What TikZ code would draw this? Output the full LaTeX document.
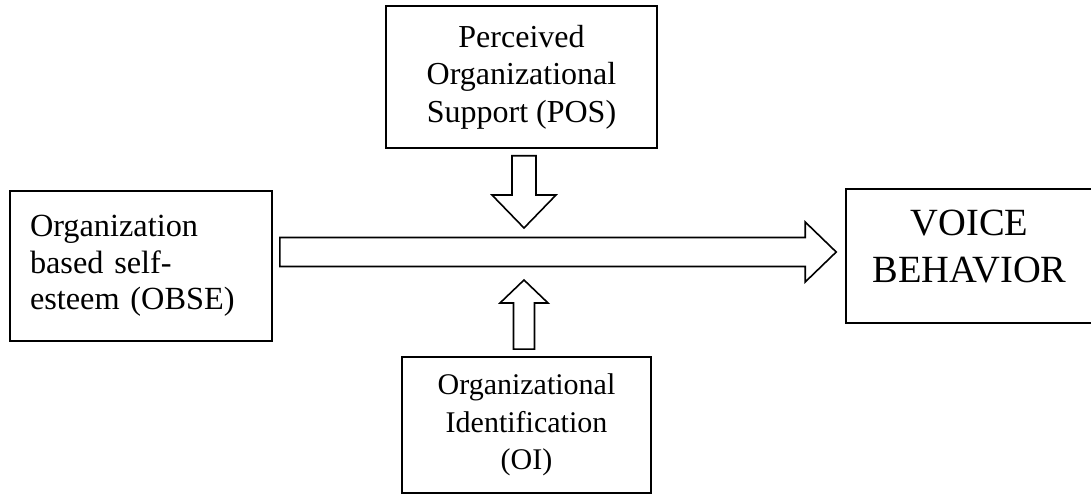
\documentclass[tikz,border=0pt]{standalone}
\usepackage{fontspec}
\setmainfont{Liberation Serif}
\usetikzlibrary{calc}

% hollow block arrow from #1 to #2: shaft half width #3, head half width #4, head length #5
\newcommand{\blockarr}[5]{%
  \coordinate (ba-h) at ($(#2)!#5!(#1)$);
  \draw[hollow] ($(#1)!#3!90:(#2)$) -- ($(ba-h)!#3!90:(#2)$)
    -- ($(ba-h)!#4!90:(#2)$) -- (#2) -- ($(ba-h)!#4!-90:(#2)$)
    -- ($(ba-h)!#3!-90:(#2)$) -- ($(#1)!#3!-90:(#2)$) -- cycle;}

\begin{document}
\begin{tikzpicture}[
  x=1pt, y=1pt,
  box/.style={draw, line width=1.6pt, inner sep=0pt, align=center},
  hollow/.style={draw, line width=1.6pt, line join=miter}
]
  \useasboundingbox (0,0) rectangle (1091,495);

  \node[box, minimum width=262pt, minimum height=150pt, text width=222pt,
        inner xsep=20pt, align=left, font=\fontsize{32.3}{36.5}\selectfont]
        (obse) at (141,229) {Organization\\ based self-\\ esteem (OBSE)};
  \node[box, minimum width=271pt, minimum height=142pt,
        font=\fontsize{32}{37.5}\selectfont]
        (pos) at (521.5,418) {Perceived\\ Organizational\\ Support (POS)};
  \node[box, minimum width=249pt, minimum height=136pt,
        font=\fontsize{30}{37.5}\selectfont]
        (oi) at (526.5,70) {Organizational\\ Identification\\ (OI)};
  \node[box, minimum width=247pt, minimum height=134pt,
        font=\fontsize{38.5}{47}\selectfont]
        (voice) at (969.5,239) {VOICE\\ BEHAVIOR\rule[-19pt]{0pt}{19pt}};

  \coordinate (hub) at (524,243);

  % main effect
  \coordinate (main-s) at ([xshift=7pt]obse.east |- hub);
  \coordinate (main-e) at ([xshift=-9pt]voice.west |- hub);
  \blockarr{main-s}{main-e}{14.5pt}{30pt}{31pt}

  % moderators
  \coordinate (pos-s) at ([yshift=-7pt]pos.south -| hub);
  \coordinate (pos-e) at ([yshift=24pt]hub);
  \blockarr{pos-s}{pos-e}{12pt}{32pt}{33pt}

  \coordinate (oi-s) at ([yshift=7pt]oi.north -| hub);
  \coordinate (oi-e) at ([yshift=-28pt]hub);
  \blockarr{oi-s}{oi-e}{10.5pt}{24pt}{23pt}
\end{tikzpicture}
\end{document}
